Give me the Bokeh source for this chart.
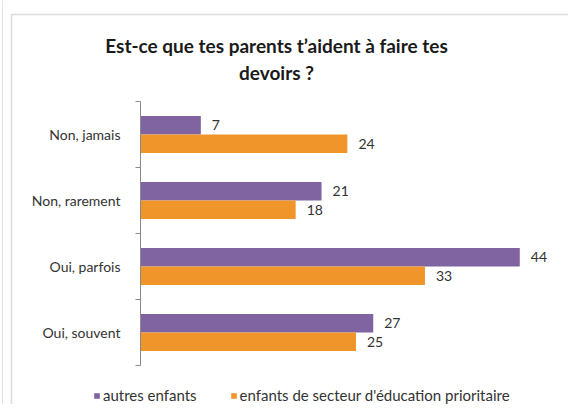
from bokeh.plotting import figure
from bokeh.models import (ColumnDataSource, Range1d, FixedTicker, Legend,
                          LegendItem, LabelSet, Label, BoxAnnotation)
from bokeh.core.properties import value
from bokeh.embed import file_html
from bokeh.resources import INLINE

categories = ["Non, jamais", "Non, rarement", "Oui, parfois", "Oui, souvent"]
autres = [7, 21, 44, 27]
prioritaire = [24, 18, 33, 25]
series_names = ["autres enfants", "enfants de secteur d'éducation prioritaire"]
title_lines = ["Est-ce que tes parents t\u2019aident à faire tes", "devoirs ?"]

PURPLE = "#8064A2"
ORANGE = "#F0952A"
FONT = "Lato"

# canvas layout (pixels)
W, H = 568, 404
PLOT_L, PLOT_T, PLOT_B = 140, 101, 365     # x=0 line, top and bottom of the category axis
AXIS_RIGHT = 571                            # pixel where the value axis maximum lies
XMAX = 50                                   # value axis maximum
PX = (AXIS_RIGHT - PLOT_L) / XMAX           # pixels per unit along x
BAND = (PLOT_B - PLOT_T) / len(categories)  # pixels per category

p = figure(width=W, height=H, output_backend="svg", toolbar_location=None,
           title_location=None, x_axis_location=None,
           x_range=Range1d(-PLOT_L / PX, (W - PLOT_L) / PX),
           y_range=Range1d(len(categories) + (H - PLOT_B) / BAND, -PLOT_T / BAND),
           min_border=0)
p.outline_line_color = None
p.grid.visible = False

centers = [i + 0.5 for i in range(len(categories))]
off = 0.14
src_a = ColumnDataSource(dict(y=[c - off for c in centers], v=autres,
                              t=[str(v) for v in autres]))
src_p = ColumnDataSource(dict(y=[c + off for c in centers], v=prioritaire,
                              t=[str(v) for v in prioritaire]))

r_a = p.hbar(y="y", right="v", left=0, height=0.28, source=src_a,
             fill_color=PURPLE, line_color=None)
r_p = p.hbar(y="y", right="v", left=0, height=0.28, source=src_p,
             fill_color=ORANGE, line_color=None)

for src in (src_a, src_p):
    p.add_layout(LabelSet(x="v", y="y", text="t", source=src, x_offset=11,
                          text_baseline="middle", text_align="left",
                          text_font=value(FONT), text_font_size="14px",
                          text_color="#333333"))

ax = p.yaxis[0]
ax.fixed_location = 0
ax.bounds = (0, len(categories))
ax.ticker = FixedTicker(ticks=centers, minor_ticks=list(range(len(categories) + 1)))
ax.major_label_overrides = {c: cat for c, cat in zip(centers, categories)}
ax.major_tick_line_color = None
ax.major_tick_out = 0
ax.major_tick_in = 0
ax.minor_tick_out = 5
ax.minor_tick_in = 0
ax.minor_tick_line_color = "#8a8a8a"
ax.axis_line_color = "#8a8a8a"
ax.major_label_text_font = FONT
ax.major_label_text_font_size = "14px"
ax.major_label_text_color = "#333333"
ax.major_label_standoff = 15

# page frame edge at the far left
p.add_layout(BoxAnnotation(left=-50, right=2, top=H + 50, bottom=-50,
                           left_units="screen", right_units="screen",
                           top_units="screen", bottom_units="screen",
                           fill_color=None, line_color="#a0a0a0", line_width=1))

# chart box border (top and left edges visible, the rest lies outside the canvas)
p.add_layout(BoxAnnotation(left=11, right=W + 50, top=H - 14, bottom=-50,
                           left_units="screen", right_units="screen",
                           top_units="screen", bottom_units="screen",
                           fill_color=None, line_color="#8a8a8a", line_width=1.5))

# title, two lines
for txt, ty in zip(title_lines, [45, 72]):
    p.add_layout(Label(x=276, y=H - ty, x_units="screen", y_units="screen",
                       text=txt, text_align="center", text_baseline="middle",
                       text_font=FONT, text_font_style="bold",
                       text_font_size="19px", text_color="#1a1a1a"))

legend = Legend(items=[LegendItem(label=series_names[0], renderers=[r_a]),
                       LegendItem(label=series_names[1], renderers=[r_p])],
                orientation="horizontal", location=(93, 0),
                glyph_width=7, glyph_height=7, label_standoff=3, spacing=33,
                padding=0, margin=0, border_line_color=None,
                background_fill_alpha=0,
                label_text_font=FONT, label_text_font_size="15px",
                label_text_color="#333333", label_height=14)
p.add_layout(legend)

open("out.html", "w").write(file_html(p, INLINE))
